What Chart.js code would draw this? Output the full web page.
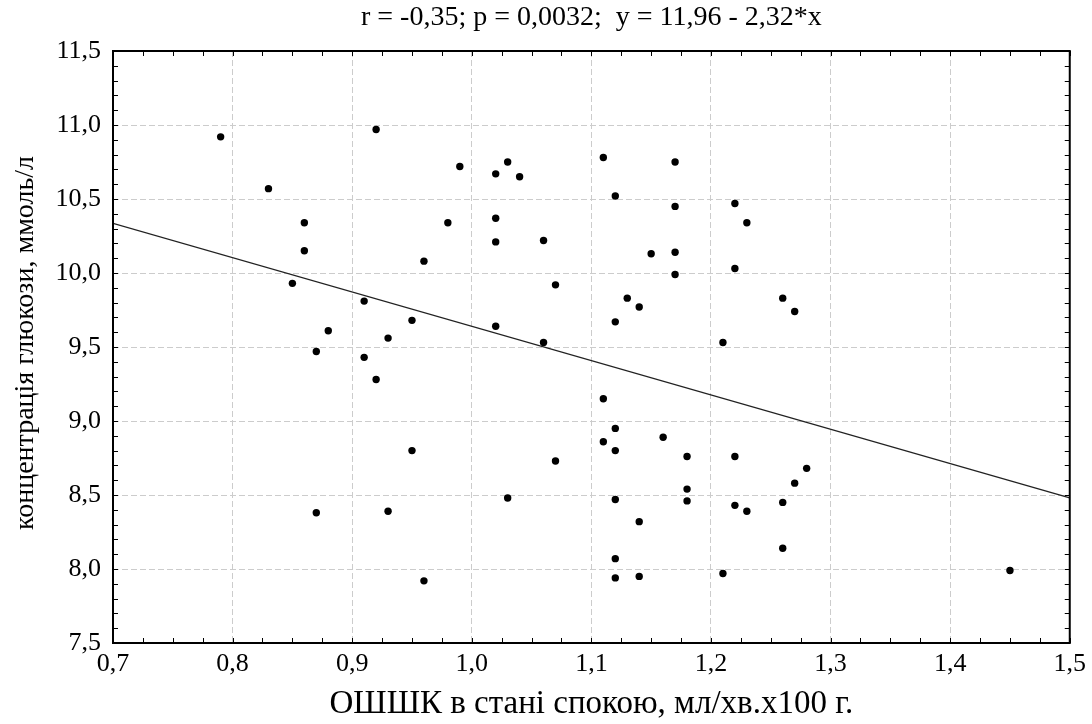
<!DOCTYPE html>
<html>
<head>
<meta charset="utf-8">
<script src="https://cdn.jsdelivr.net/npm/chart.js@4/dist/chart.umd.min.js"></script>
<style>
  html, body { margin: 0; padding: 0; background: #fff; }
  #chart { display: block; }
</style>
</head>
<body>
<canvas id="chart" width="1092" height="724"></canvas>
<script>
// data
const xValues = [
    0.79, 0.92, 0.83, 0.99, 1.02, 0.86, 0.98, 1.02, 0.86, 1.02,
    0.96, 0.85, 0.91, 0.95, 1.02, 0.88, 0.93, 0.87, 0.91, 0.92,
    0.95, 0.87, 0.93, 0.96, 1.03, 1.04, 1.06, 1.07, 1.06, 1.11,
    1.17, 1.12, 1.17, 1.15, 1.17, 1.17, 1.13, 1.14, 1.12, 1.22,
    1.23, 1.22, 1.26, 1.27, 1.21, 1.11, 1.12, 1.11, 1.12, 1.16,
    1.07, 1.18, 1.22, 1.28, 1.27, 1.03, 1.12, 1.18, 1.18, 1.26,
    1.22, 1.23, 1.14, 1.26, 1.12, 1.21, 1.12, 1.14, 1.45
];
const yValues = [
    10.92, 10.97, 10.57, 10.72, 10.67, 10.34, 10.34, 10.37, 10.15, 10.21,
    10.08, 9.93, 9.81, 9.68, 9.64, 9.61, 9.56, 9.47, 9.43, 9.28,
    8.80, 8.38, 8.39, 7.92, 10.75, 10.65, 10.22, 9.92, 9.53, 10.78,
    10.75, 10.52, 10.45, 10.13, 10.14, 9.99, 9.83, 9.77, 9.67, 10.47,
    10.34, 10.03, 9.83, 9.74, 9.53, 9.15, 8.95, 8.86, 8.80, 8.89,
    8.73, 8.76, 8.76, 8.68, 8.58, 8.48, 8.47, 8.54, 8.46, 8.45,
    8.43, 8.39, 8.32, 8.14, 8.07, 7.97, 7.94, 7.95, 7.99
];

// regression from the title: y = 11.96 - 2.32*x
const fitIntercept = 11.96;
const fitSlope = -2.32;
const fitX = [0.7, 1.5];

const xTicks = [0.7, 0.8, 0.9, 1.0, 1.1, 1.2, 1.3, 1.4, 1.5];
const yTicks = [7.5, 8.0, 8.5, 9.0, 9.5, 10.0, 10.5, 11.0, 11.5];

const titleText = 'r = -0,35; p = 0,0032;  y = 11,96 - 2,32*x';
const xTitle = 'ОШШК в стані спокою, мл/хв.х100 г.';
const yTitle = 'концентрація глюкози, ммоль/л';

const serif = "'Liberation Serif', 'Times New Roman', serif";
const comma = v => Number(v).toFixed(1).replace('.', ',');

// frame, inward minor/major ticks on all four sides, y axis title
const frame = {
    id: 'frame',
    afterDraw(chart) {
        const ctx = chart.ctx;
        const a = chart.chartArea;
        const sx = chart.scales.x;
        const sy = chart.scales.y;
        ctx.save();
        ctx.strokeStyle = '#000';
        ctx.lineWidth = 1;
        ctx.beginPath();
        for (let i = 0; i <= 32; i++) {
            const px = Math.round(sx.getPixelForValue(0.7 + i * 0.025)) + 0.5;
            ctx.moveTo(px, a.bottom); ctx.lineTo(px, a.bottom - 5);
            ctx.moveTo(px, a.top); ctx.lineTo(px, a.top + 5);
        }
        for (let i = 0; i <= 40; i++) {
            const py = Math.round(sy.getPixelForValue(7.5 + i * 0.1)) + 0.5;
            ctx.moveTo(a.left, py); ctx.lineTo(a.left + 5, py);
            ctx.moveTo(a.right, py); ctx.lineTo(a.right - 5, py);
        }
        ctx.stroke();
        ctx.lineWidth = 2;
        ctx.strokeRect(a.left, a.top, a.right - a.left, a.bottom - a.top);

        ctx.translate(26, (a.top + a.bottom) / 2 - 4);
        ctx.rotate(-Math.PI / 2);
        ctx.fillStyle = '#000';
        ctx.font = '28px ' + serif;
        ctx.textAlign = 'center';
        ctx.textBaseline = 'middle';
        ctx.fillText(yTitle, 0, 0);
        ctx.restore();
    }
};

const points = xValues.map((x, i) => ({ x: x, y: yValues[i] }));
const fitLine = fitX.map(x => ({ x: x, y: fitIntercept + fitSlope * x }));

new Chart(document.getElementById('chart'), {
    type: 'scatter',
    data: {
        datasets: [
            {
                data: fitLine,
                showLine: true,
                borderColor: '#222',
                borderWidth: 1.3,
                pointRadius: 0,
                fill: false
            },
            {
                data: points,
                backgroundColor: '#000',
                borderColor: '#000',
                pointRadius: 3.7,
                pointBorderWidth: 0
            }
        ]
    },
    plugins: [frame],
    options: {
        responsive: false,
        animation: false,
        layout: { padding: { left: 0, right: 22, top: 0, bottom: 0 } },
        plugins: {
            legend: { display: false },
            tooltip: { enabled: false },
            title: {
                display: true,
                fullSize: false,
                text: titleText,
                color: '#000',
                font: { family: serif, size: 28, weight: 'normal' },
                padding: { top: 1, bottom: 16.4 }
            }
        },
        scales: {
            x: {
                type: 'linear',
                min: 0.7,
                max: 1.5,
                afterBuildTicks: s => { s.ticks = xTicks.map(v => ({ value: v })); },
                afterFit: s => { s.height = 81; },
                grid: {
                    color: '#cccccc',
                    lineWidth: 1,
                    drawTicks: false
                },
                border: { display: false, dash: [6, 3] },
                ticks: {
                    color: '#000',
                    padding: 6,
                    maxRotation: 0,
                    font: { family: serif, size: 26 },
                    callback: v => comma(v)
                },
                title: {
                    display: true,
                    text: xTitle,
                    color: '#000',
                    font: { family: serif, size: 33 },
                    padding: { top: 4, bottom: 0 }
                }
            },
            y: {
                type: 'linear',
                min: 7.5,
                max: 11.5,
                afterBuildTicks: s => { s.ticks = yTicks.map(v => ({ value: v })); },
                afterFit: s => { s.width = 113; },
                grid: {
                    color: '#cccccc',
                    lineWidth: 1,
                    drawTicks: false
                },
                border: { display: false, dash: [6, 3] },
                ticks: {
                    color: '#000',
                    padding: 12,
                    font: { family: serif, size: 26 },
                    callback: v => comma(v)
                }
            }
        }
    }
});
</script>
</body>
</html>
